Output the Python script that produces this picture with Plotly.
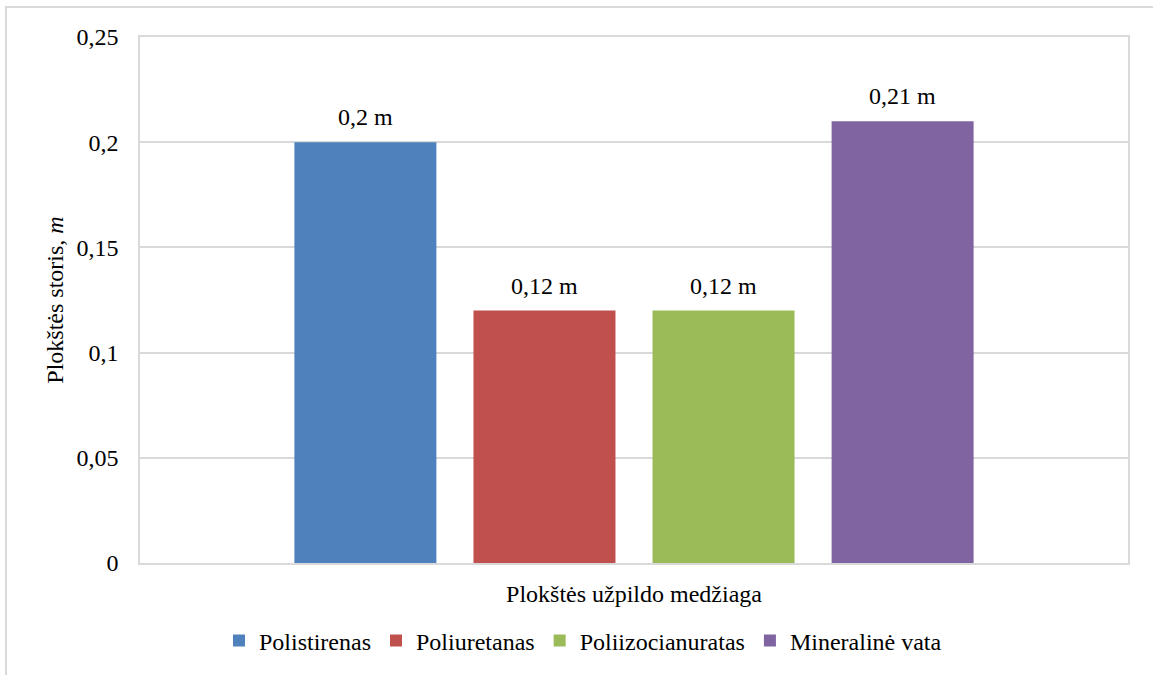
import plotly.graph_objects as go

category = ["Plokštės užpildo medžiaga"]
series_names = ["Polistirenas", "Poliuretanas", "Poliizocianuratas", "Mineralinė vata"]
series_values = [0.20, 0.12, 0.12, 0.21]
series_labels = ["0,2 m", "0,12 m", "0,12 m", "0,21 m"]
colors = ["#4F81BD", "#C0504D", "#9BBB59", "#8064A2"]
ytick_vals = [0, 0.05, 0.10, 0.15, 0.20, 0.25]
ytick_text = ["0", "0,05", "0,1", "0,15", "0,2", "0,25"]

FONT = "Liberation Serif, Times New Roman, serif"
FS = 24
BLACK = "#000000"

W, H = 1153, 675
L, R, T, B = 140, 1128, 37, 563
BARGAP, GROUPGAP = 0.275, 0.207

fig = go.Figure()
for name, val, col in zip(series_names, series_values, colors):
    fig.add_trace(go.Bar(
        name=name, x=category, y=[val],
        marker=dict(color=col, line=dict(width=0)),
        hoverinfo="name+y",
    ))

# data labels placed over each bar (offsets derived from the group geometry)
n = len(series_names)
slot = (1 - BARGAP) / n
annotations = []
for i, (val, lab) in enumerate(zip(series_values, series_labels)):
    annotations.append(dict(
        x=-(1 - BARGAP) / 2 + (i + 0.5) * slot, y=val, xref="x", yref="y",
        text=lab, showarrow=False, yanchor="middle", yshift=25,
        font=dict(family=FONT, size=FS, color=BLACK),
    ))


def px(x):
    return (x - L) / (R - L)


def py(y):
    return (B - y) / (B - T)


fig.update_layout(
    width=W, height=H,
    margin=dict(l=L, r=W - R, t=T, b=H - B, autoexpand=False),
    paper_bgcolor="white", plot_bgcolor="white",
    font=dict(family=FONT, size=FS, color=BLACK),
    barmode="group", bargap=BARGAP, bargroupgap=GROUPGAP,
    showlegend=True,
    legend=dict(orientation="h", x=px(583), xanchor="center", y=py(641), yanchor="middle",
                font=dict(family=FONT, size=FS, color=BLACK),
                itemwidth=30, tracegroupgap=0, traceorder="normal"),
    annotations=annotations,
    shapes=[
        dict(type="line", xref="paper", yref="paper", x0=px(6), x1=px(6), y0=py(680), y1=py(7),
             line=dict(color="#D9D9D9", width=2)),
        dict(type="line", xref="paper", yref="paper", x0=px(5), x1=px(1160), y0=py(7), y1=py(7),
             line=dict(color="#D9D9D9", width=2)),
    ],
)
fig.update_xaxes(
    showticklabels=True, ticks="", ticklabelstandoff=8,
    showline=True, linecolor="#D9D9D9", linewidth=1.5, mirror=True,
    showgrid=False, tickfont=dict(family=FONT, size=FS, color=BLACK),
)
fig.update_yaxes(
    range=[0, 0.25], tickvals=ytick_vals, ticktext=ytick_text,
    ticks="", ticklabelstandoff=15,
    showline=True, linecolor="#D9D9D9", linewidth=1.5, mirror=True,
    showgrid=True, gridcolor="#D9D9D9", gridwidth=1.5, zeroline=False,
    tickfont=dict(family=FONT, size=FS, color=BLACK),
    title=dict(text="Plokštės storis, <i>m</i>", standoff=6,
               font=dict(family=FONT, size=FS, color=BLACK)),
)

fig.write_html("out.html", config={"displayModeBar": False},
               post_script="document.body.style.margin='0';document.body.style.overflow='hidden';")
